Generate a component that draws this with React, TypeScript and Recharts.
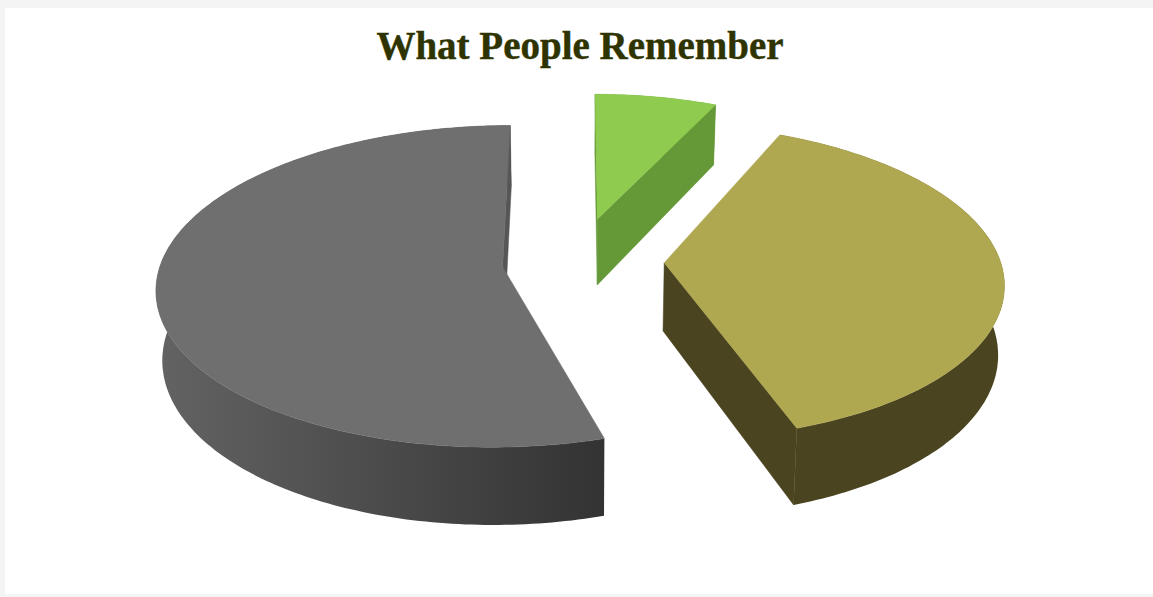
import { PieChart, Pie } from 'recharts';

const sliceNames = ['Green', 'Olive', 'Gray'];
const sliceValues = [7, 38.1, 54.9];

const chartTitle = 'What People Remember';

const topColors = ['#8ecb4f', '#b0a850', '#6f6f6f'];
const wallFills = ['#669a3a', '#4a4520', 'url(#grayWall)'];
const cutFills = ['#659938', '#4a4520', '#565656'];

// how far each slice is pulled out of the pie, in plane units
const sliceExplode = [[15, -92], [81, 6], [-80, 15]];
const sliceScale = [0.94, 0.985, 1];
// degrees shaved off the leading and trailing side of each slice's rim
const sliceTrim = [[0, 0], [-1, 1], [1, 0]];

const pieData = sliceNames.map((name, i) => ({ name, value: sliceValues[i] }));

const CX = 583;
const CY = 260;
const RADIUS = 341;
const TILT = 0.46;
const PERSPECTIVE_X = 0.12;
const PERSPECTIVE_Y = 0.12;
const DEPTH = 68;
const CONVERGE = 0.015;

// flat pie plane -> screen; lift pushes a point down to the underside of the slab,
// where the verticals lean slightly toward the middle
function project(x: number, y: number, lift = 0) {
  const v = y / RADIUS;
  const sx = 1 / (1 - PERSPECTIVE_X * v);
  const sy = 1 / (1 - PERSPECTIVE_Y * v);
  const lean = 1 - (CONVERGE * lift) / DEPTH;
  return [CX + x * sx * lean, CY + (y * TILT + lift) * sy];
}

const toPath = (pts: number[][]) =>
  'M' + pts.map((p) => `${p[0].toFixed(1)},${p[1].toFixed(1)}`).join('L') + 'Z';

function Slice3D(props: any) {
  const { startAngle, endAngle, outerRadius, index } = props;
  const rad = Math.PI / 180;
  const [ox, oy] = sliceExplode[index];
  const r = outerRadius * sliceScale[index];
  const from = startAngle - sliceTrim[index][0];
  const to = endAngle + sliceTrim[index][1];

  const rim: number[][] = [];
  const steps = Math.ceil(Math.abs(from - to));
  for (let i = 0; i <= steps; i++) {
    const a = (from + ((to - from) * i) / steps) * rad;
    rim.push([ox + r * Math.cos(a), oy - r * Math.sin(a)]);
  }

  const apex = project(ox, oy);
  const top = [apex, ...rim.map((p) => project(p[0], p[1]))];
  const wall = [
    ...rim.map((p) => project(p[0], p[1])),
    ...[...rim].reverse().map((p) => project(p[0], p[1], DEPTH)),
  ];
  const mid = project(rim[Math.floor(steps / 2)][0], rim[Math.floor(steps / 2)][1]);

  // a cut face only shows when the slice body lies above its top edge
  const cutFace = (p: number[]) => {
    const q = project(p[0], p[1]);
    const edgeX = q[0] - apex[0];
    const edgeY = q[1] - apex[1];
    const side = edgeX * (mid[1] - apex[1]) - edgeY * (mid[0] - apex[0]);
    if (side * edgeX >= 0) return null;
    const pts = [apex, q, project(p[0], p[1], DEPTH), project(ox, oy, DEPTH)];
    return <path d={toPath(pts)} fill={cutFills[index]} stroke={cutFills[index]} strokeWidth={0.5} />;
  };

  return (
    <g>
      <path d={toPath(wall)} fill={wallFills[index]} />
      {cutFace(rim[0])}
      {cutFace(rim[rim.length - 1])}
      <path d={toPath(top)} fill={topColors[index]} stroke={topColors[index]} strokeWidth={0.5} />
    </g>
  );
}

export default function App() {
  return (
    <div style={{ position: 'absolute', left: 0, top: 0, width: 1153, height: 597, background: '#f4f4f4', overflow: 'hidden' }}>
      <div style={{ position: 'absolute', left: 5, top: 8, right: 0, bottom: 3, background: '#fff' }} />
      <div style={{ position: 'absolute', left: 0, top: 0 }}>
        <PieChart width={1153} height={597} margin={{ top: 0, right: 0, bottom: 0, left: 0 }}>
          <defs>
            <linearGradient id="grayWall" x1="0" y1="0" x2="1" y2="0">
              <stop offset="0%" stopColor="#636363" />
              <stop offset="100%" stopColor="#333333" />
            </linearGradient>
          </defs>
          <text
            x={580}
            y={59}
            textAnchor="middle"
            fontFamily="Liberation Serif"
            fontWeight="bold"
            fontSize={39}
            fill="#2e3300"
            stroke="#2e3300"
            strokeWidth={0.4}
          >
            {chartTitle}
          </text>
          <Pie
            data={pieData}
            dataKey="value"
            nameKey="name"
            cx={CX}
            cy={CY}
            innerRadius={0}
            outerRadius={RADIUS}
            startAngle={90.2}
            endAngle={-269.8}
            stroke="none"
            legendType="none"
            labelLine={false}
            isAnimationActive={false}
            shape={(props: any) => <Slice3D {...props} />}
          />
        </PieChart>
      </div>
    </div>
  );
}
